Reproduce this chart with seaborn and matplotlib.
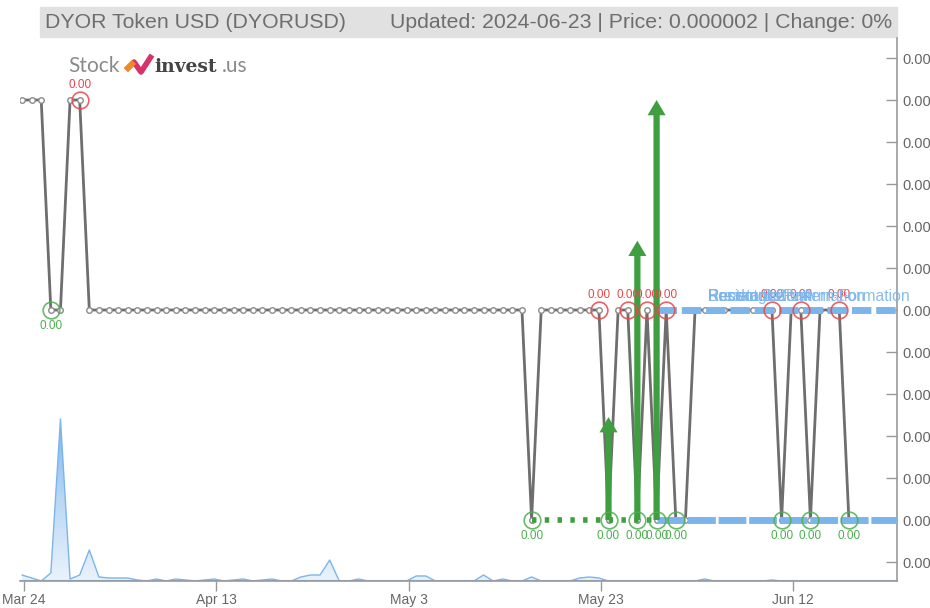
import numpy as np
import pandas as pd
import matplotlib
matplotlib.use("Agg")
import matplotlib.pyplot as plt
import matplotlib.dates as mdates
from matplotlib.colors import LinearSegmentedColormap
import seaborn as sns

# ---------------- data ----------------
LOW, MID, HIGH = 0.000002, 0.000003, 0.000004
price_levels = (
    ["H"] * 3 + ["M"] * 2 + ["H"] * 2 + ["M"] * 46 + ["L"] + ["M"] * 7 +
    ["L", "M", "M", "L", "M", "L", "M", "L", "L"] + ["M"] * 9 +
    ["L", "M", "M", "L", "M", "M", "M", "L"]
)
level_map = {"L": LOW, "M": MID, "H": HIGH}
prices = [level_map[c] for c in price_levels]
dates = pd.date_range("2024-03-23 19:00", periods=len(prices), freq="D")

volume = [6, 3, 0, 8, 162, 2, 6, 31, 4, 3, 3, 3, 1, 0, 2, 0, 2, 1, 0, 1,
          2, 0, 1, 2, 0, 1, 2, 0, 0, 4, 6, 6, 21, 0, 0, 2, 0, 0, 0, 0,
          0, 5, 5, 0, 0, 0, 0, 0, 6, 0, 2, 0, 0, 4, 0, 0, 0, 0, 3, 4,
          3, 0, 0, 0, 0, 0, 0, 0, 0, 0, 0, 2, 0, 0, 0, 0, 0, 0, 1, 0,
          0, 0, 0, 0, 0, 0, 0]

high_idx = [6, 60, 63, 65, 67, 78, 81, 85]
low_idx = [3, 53, 61, 64, 66, 68, 79, 82, 86]
arrow_idx = [61, 64, 66]
arrow_tops = [0.00000249, 0.00000333, 0.000004]
support_start = 53          # green dotted support
trend_start = 66            # blue dashed lines
blue_labels = ["Resistance", "Recent Bottom", "Breakout Confirmation", "Rectangle Pattern Formation"]

yticks = [0.0000018 + 0.0000002 * i for i in range(13)]
xtick_dates = pd.to_datetime(["2024-03-24", "2024-04-13", "2024-05-03", "2024-05-23", "2024-06-12"])
xtick_labels = ["Mar 24", "Apr 13", "May 3", "May 23", "Jun 12"]

title_left = "DYOR Token USD (DYORUSD)"
title_right = "Updated: 2024-06-23 | Price: 0.000002 | Change: 0%"

# ---------------- styling ----------------
sns.set_theme(style="white")
plt.rcParams["font.family"] = ["Liberation Sans", "DejaVu Sans"]

W, H = 930, 608
fig = plt.figure(figsize=(W / 100, H / 100), dpi=100)
left, right, top, bottom = 20, 897, 38, 581
ax = fig.add_axes([left / W, 1 - bottom / H, (right - left) / W, (bottom - top) / H])
ax2 = ax.twinx()
ax.set_zorder(ax2.get_zorder() + 1)
ax.patch.set_visible(False)

df = pd.DataFrame({"date": dates, "price": prices, "volume": volume})

x0 = pd.Timestamp("2024-03-24") - pd.Timedelta(days=4 / 9.615)
x1 = pd.Timestamp("2024-03-24") + pd.Timedelta(days=873 / 9.615)

# volume area with vertical gradient
vcol = "#7cb5ec"
poly = ax2.fill_between(df["date"], df["volume"], 0, color="none", lw=0)
cmap = LinearSegmentedColormap.from_list("vg", ["#eaf3fc", "#b9d8f5", "#7cb5ec"])
grad = np.linspace(0, 1, 256).reshape(-1, 1)
im = ax2.imshow(grad, extent=[mdates.date2num(x0), mdates.date2num(x1), 0, max(volume)],
                origin="lower", aspect="auto", cmap=cmap, zorder=1)
im.set_clip_path(poly.get_paths()[0], transform=ax2.transData)
sns.lineplot(data=df, x="date", y="volume", ax=ax2, color=vcol, lw=1.0, zorder=2)
ax2.plot([x0, x1], [0, 0], color=vcol, lw=1.5, zorder=2)
ax2.set_xlim(x0, x1)
ax2.set_ylim(0, bottom - top)
ax2.set_yticks([])
ax2.set_ylabel("")
for s in ax2.spines.values():
    s.set_visible(False)

# price line
grey = "#6e6e6e"
sns.lineplot(data=df, x="date", y="price", ax=ax, color=grey, lw=2.0,
             marker="o", markersize=4, markerfacecolor="white",
             markeredgecolor="#8c8c8c", markeredgewidth=1.0, zorder=3)

# support dotted green
green = "#3f9e3f"
ax.plot([dates[support_start], dates[trend_start]], [LOW, LOW], color=green,
        lw=4, linestyle=(0, (0.8, 1.5)), zorder=4)

# blue trend lines
ax.plot([dates[trend_start], x1], [MID, MID], color=vcol, lw=5,
        linestyle=(0, (2.8, 0.7)), zorder=5, solid_capstyle="butt")
ax.plot([dates[trend_start], x1], [LOW, LOW], color=vcol, lw=5,
        linestyle=(0, (4, 0.4)), zorder=5)

# arrows
for i, t in zip(arrow_idx, arrow_tops):
    ax.annotate("", xy=(dates[i], t), xytext=(dates[i], LOW),
                arrowprops=dict(width=4.5, headwidth=13, headlength=11,
                                color=green, shrink=0, lw=0),
                zorder=7)

# highs / lows circles
red = "#e8474a"
for i in high_idx:
    ax.plot(dates[i], prices[i], marker="o", markersize=12, markerfacecolor="none",
            markeredgecolor=red, markeredgewidth=1.2, alpha=0.85, zorder=8)
    ax.annotate("0.00", (dates[i], prices[i]), xytext=(0, 6.5), textcoords="offset points",
                ha="center", va="bottom", color=red, fontsize=8.5, zorder=8)
for i in low_idx:
    ax.plot(dates[i], prices[i], marker="o", markersize=12, markerfacecolor="none",
            markeredgecolor="#4caf50", markeredgewidth=1.2, alpha=0.85, zorder=8)
    ax.annotate("0.00", (dates[i], prices[i]), xytext=(0, -7), textcoords="offset points",
                ha="center", va="top", color="#4caf50", fontsize=8.5, zorder=8)

# pattern labels (drawn on top, overlapping as in the source)
for lab in blue_labels:
    ax.text(dates[trend_start + 4] + pd.Timedelta(days=1.3), MID + 0.000000028, lab,
            color=vcol, fontsize=11.3, ha="left", va="bottom", zorder=9,
            clip_on=False, alpha=0.9)

# axes
ymin = LOW - 61 / 42 * 0.0000002
ymax = LOW + 482 / 42 * 0.0000002
ax.set_ylim(ymin, ymax)
ax.set_xlim(x0, x1)
ax.yaxis.tick_right()
ax.set_yticks(yticks)
ax.set_yticklabels(["0.00"] * len(yticks))
ax.set_xticks(xtick_dates)
ax.set_xticklabels(xtick_labels)
ax.set_xlabel("")
ax.set_ylabel("")
ax.tick_params(axis="y", direction="in", length=8, width=1, color="#999999",
               labelcolor="#666666", labelsize=10.5, pad=4, right=True, left=False)
ax.tick_params(axis="x", direction="out", length=7, width=1, color="#999999",
               labelcolor="#666666", labelsize=10, pad=1.5, bottom=True)
for name, s in ax.spines.items():
    if name in ("right", "bottom"):
        s.set_visible(True)
        s.set_color("#999999")
        s.set_linewidth(1.2)
    else:
        s.set_visible(False)
ax.grid(False)

# title band
fig.patches.append(plt.Rectangle((40 / W, 1 - 37 / H), (897 - 40) / W, 30 / H,
                                 transform=fig.transFigure, color="#e1e1e1", zorder=0))
fig.text(45 / W, 1 - 22 / H, title_left, color="#6e6e6e", fontsize=15.3, va="center", ha="left")
fig.text(892 / W, 1 - 22 / H, title_right, color="#6e6e6e", fontsize=15.3, va="center", ha="right")

# logo
fig.text(68 / W, 1 - 72 / H, "Stock", color="#8a8a8a", fontsize=15, ha="left", va="baseline",
         family=["Lato", "DejaVu Sans"])
fig.lines.append(plt.Line2D([126 / W, 134 / W, 141 / W, 152 / W], [1 - 70 / H, 1 - 62 / H, 1 - 72 / H, 1 - 55 / H],
                            transform=fig.transFigure, color="#d6336c", lw=4, solid_capstyle="butt"))
fig.lines.append(plt.Line2D([126 / W, 134 / W], [1 - 70 / H, 1 - 62 / H],
                            transform=fig.transFigure, color="#f08a24", lw=4, solid_capstyle="butt"))
fig.text(154 / W, 1 - 72 / H, "invest", color="#444444", fontsize=13.5, ha="left", va="baseline",
         weight="bold", family=["DejaVu Serif"])
fig.text(222 / W, 1 - 72 / H, ".us", color="#8a8a8a", fontsize=15, ha="left", va="baseline",
         family=["Lato", "DejaVu Sans"])

fig.savefig("out.png", dpi=100)
